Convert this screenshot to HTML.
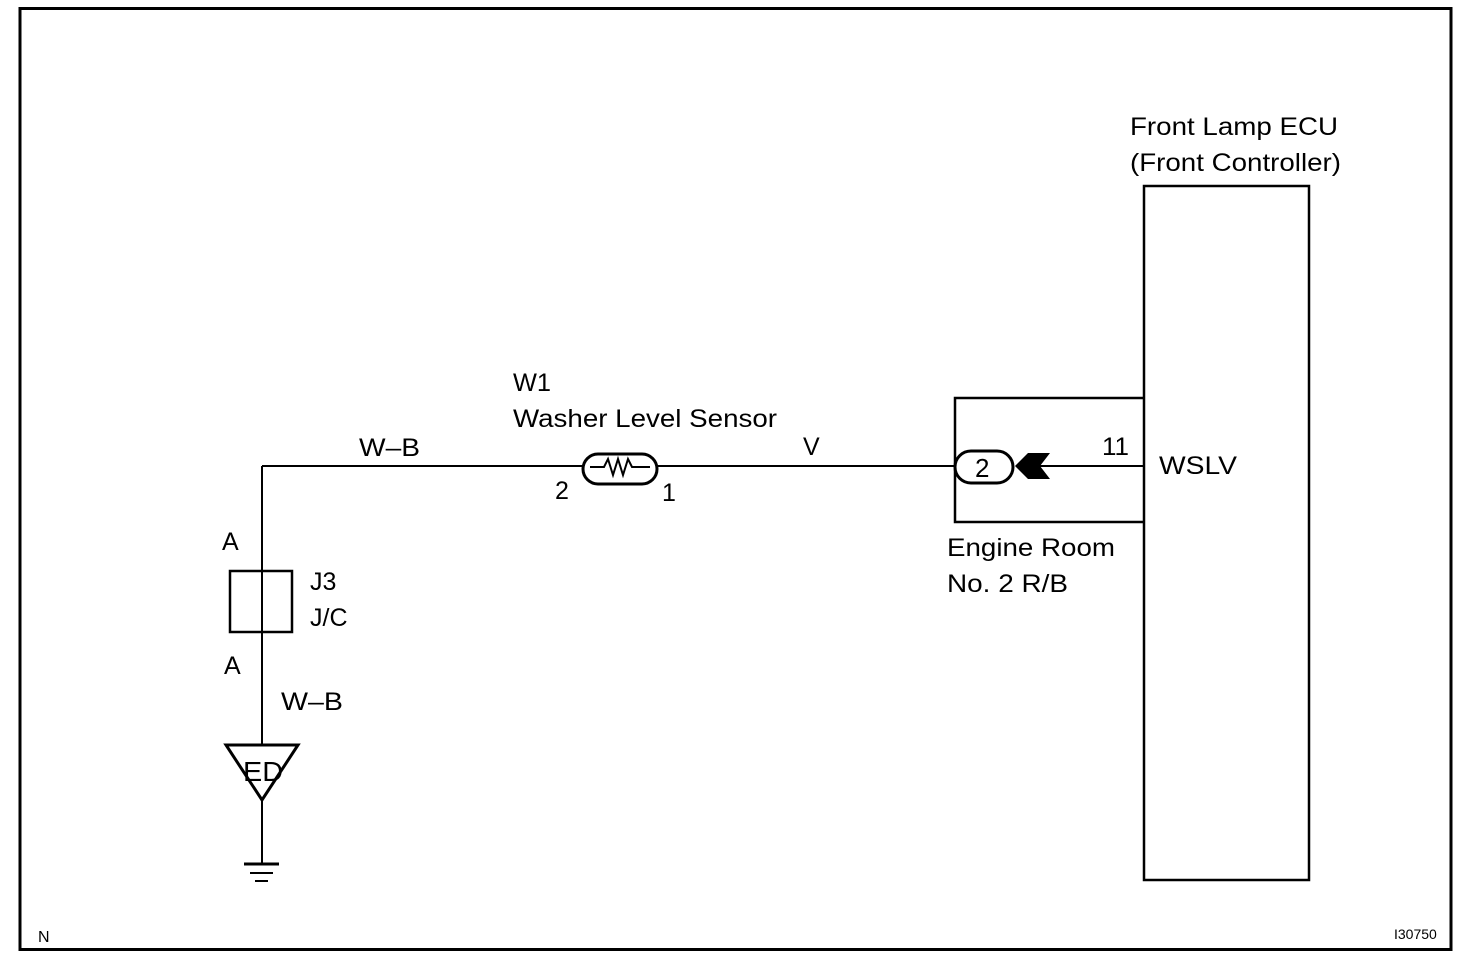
<!DOCTYPE html>
<html><head><style>
html,body{margin:0;padding:0;background:#fff;}
svg{display:block;}
text{font-family:"Liberation Sans",Arial,sans-serif;fill:#000;}
</style></head><body>
<svg width="1472" height="978" viewBox="0 0 1472 978" xmlns="http://www.w3.org/2000/svg">
<rect x="20" y="8.5" width="1431" height="941" fill="none" stroke="#000" stroke-width="3"/>
<g stroke="#000" fill="none" stroke-width="2">
<rect x="1144" y="186" width="165" height="694" stroke-width="2.5"/>
<polyline points="1144,398 955,398 955,522 1144,522" stroke-width="2.5"/>
<line x1="262" y1="466" x2="583" y2="466"/>
<line x1="657" y1="466" x2="955" y2="466"/>
<line x1="1040" y1="466" x2="1144" y2="466"/>
<rect x="955" y="451" width="58" height="32" rx="16" stroke-width="3"/>
<rect x="583" y="454" width="74" height="30" rx="15" stroke-width="3"/>
<polyline points="590,467 604,467 608,459 613,475 618,459 623,475 628,459 632,467 650,467" stroke-width="2"/>
<line x1="262" y1="466" x2="262" y2="745"/>
<rect x="230" y="571" width="62" height="61" stroke-width="2.5"/>
<polygon points="226,745 298,745 262,800" stroke-width="3"/>
<line x1="262" y1="800" x2="262" y2="863"/>
<line x1="244" y1="864" x2="279" y2="864" stroke-width="3"/>
<line x1="250" y1="873" x2="273" y2="873"/>
<line x1="255" y1="881" x2="268" y2="881"/>
</g>
<polygon points="1015,466 1028,453 1050,453 1040,466 1050,479 1028,479" fill="#000"/>
<g font-size="25" lengthAdjust="spacingAndGlyphs">
<text x="1130" y="135" textLength="208" lengthAdjust="spacingAndGlyphs">Front Lamp ECU</text>
<text x="1130" y="171" textLength="211" lengthAdjust="spacingAndGlyphs">(Front Controller)</text>
<text x="513" y="391" textLength="38" lengthAdjust="spacingAndGlyphs">W1</text>
<text x="513" y="427" textLength="264" lengthAdjust="spacingAndGlyphs">Washer Level Sensor</text>
<text x="359" y="456" textLength="61" lengthAdjust="spacingAndGlyphs">W–B</text>
<text x="803" y="455">V</text>
<text x="555" y="499">2</text>
<text x="662" y="501">1</text>
<text x="1102" y="455" textLength="27" lengthAdjust="spacingAndGlyphs">11</text>
<text x="1159" y="474" textLength="78" lengthAdjust="spacingAndGlyphs">WSLV</text>
<text x="975" y="477" font-size="26">2</text>
<text x="947" y="556" textLength="168" lengthAdjust="spacingAndGlyphs">Engine Room</text>
<text x="947" y="592" textLength="121" lengthAdjust="spacingAndGlyphs">No. 2 R/B</text>
<text x="222" y="550">A</text>
<text x="310" y="590">J3</text>
<text x="310" y="626">J/C</text>
<text x="224" y="674">A</text>
<text x="281" y="710" textLength="62" lengthAdjust="spacingAndGlyphs">W–B</text>
<text x="243" y="781" font-size="28" textLength="40" lengthAdjust="spacingAndGlyphs">ED</text>
</g>
<text x="38" y="942" font-size="16">N</text>
<text x="1394" y="939" font-size="14">I30750</text>
</svg>
</body></html>
